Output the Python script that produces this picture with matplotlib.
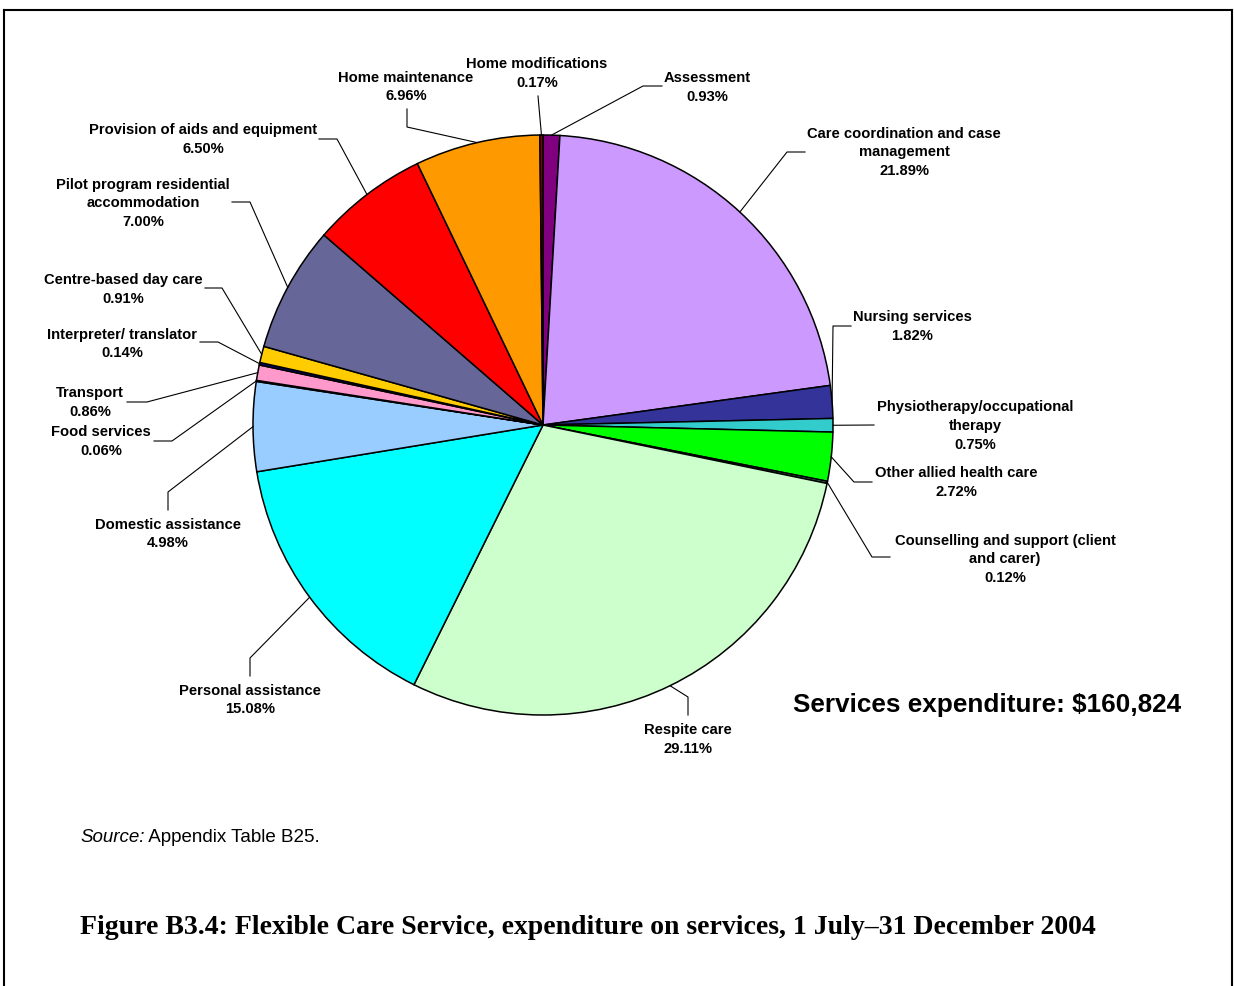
import numpy as np
import matplotlib.pyplot as plt
from matplotlib.lines import Line2D

W, H = 1234, 987

labels = ['Assessment', 'Care coordination and case\nmanagement', 'Nursing services',
          'Physiotherapy/occupational\ntherapy', 'Other allied health care',
          'Counselling and support (client\nand carer)', 'Respite care',
          'Personal assistance', 'Domestic assistance', 'Food services', 'Transport',
          'Interpreter/ translator', 'Centre-based day care',
          'Pilot program residential\naccommodation', 'Provision of aids and equipment',
          'Home maintenance', 'Home modifications']
shares = [0.93, 21.89, 1.82, 0.75, 2.72, 0.12, 29.11, 15.08, 4.98, 0.06, 0.86,
          0.14, 0.91, 7.00, 6.50, 6.96, 0.17]
colors = ['#800080', '#CC99FF', '#333399', '#33CCCC', '#00FF00', '#339966', '#CCFFCC',
          '#00FFFF', '#99CCFF', '#993366', '#FF99CC', '#000080', '#FFCC00', '#666699',
          '#FF0000', '#FF9900', '#800000']
total_spend = '$160,824'

# label block centre and leader elbows, in page pixels (y down)
label_pos = [(707, 87.5), (904, 152.5), (912, 326.5), (975, 426), (956, 482.5),
             (1005, 559.5), (688, 739.5), (250, 700), (168, 534), (101, 441.5),
             (90, 402.5), (122, 344), (123, 289.5), (143, 203.5), (203, 139.5),
             (406, 87), (537, 73.5)]
leaders = [[(643, 87), (662, 87)], [(787, 153), (805, 153)], [(833, 327), (851, 327)],
           [(874, 426)], [(854, 483), (872, 483)], [(872, 558), (890, 558)],
           [(688, 698), (688, 716)], [(250, 659), (250, 677)], [(168, 493), (168, 511)],
           [(172, 442), (154, 442)], [(147, 403), (127, 403)], [(218, 343), (200, 343)],
           [(222, 289), (205, 289)], [(250, 203), (232, 203)], [(337, 140), (319, 140)],
           [(407, 128), (407, 110)], [(538, 97)]]

cx, cy, r = 543, 426, 290

def fy(y):
    return H - y

fig = plt.figure(figsize=(W / 100, H / 100), dpi=100)
ax = fig.add_axes([0, 0, 1, 1])

ax.pie(shares, colors=colors, startangle=90, counterclock=False,
       center=(cx, fy(cy)), radius=r,
       wedgeprops=dict(edgecolor='black', linewidth=1.1))

lab_font = dict(family='Liberation Sans', fontweight='bold', fontsize=10.6)
cum = np.cumsum([0] + shares[:-1])
for i, (lab, val) in enumerate(zip(labels, shares)):
    mid = 90 - (cum[i] + val / 2) * 3.6
    a = np.deg2rad(mid)
    x0, y0 = cx + r * np.cos(a), cy - r * np.sin(a)
    pts = [(x0, y0)] + leaders[i]
    ax.plot([p[0] for p in pts], [fy(p[1]) for p in pts], color='black', lw=0.8)
    tx, ty = label_pos[i]
    ax.text(tx, fy(ty), '%s\n%.2f%%' % (lab, val), ha='center', va='center',
            linespacing=1.45, **lab_font)

ax.text(987, fy(705), 'Services expenditure: ' + total_spend, ha='center', va='center',
        family='Liberation Sans', fontweight='bold', fontsize=18.8)

src = ax.text(80, fy(838), 'Source:', ha='left', va='center', family='Liberation Sans',
              style='italic', fontsize=13.5)
ax.annotate(' Appendix Table B25.', xy=(1, 0.5), xycoords=src, ha='left', va='center',
            family='Liberation Sans', fontsize=13.5)

ax.text(80, fy(928), 'Figure B3.4: Flexible Care Service, expenditure on services, '
        '1 July\u201331 December 2004', ha='left', va='center',
        family='Liberation Serif', fontweight='bold', fontsize=20)

ax.set_xlim(0, W)
ax.set_ylim(0, H)
ax.set_aspect('auto')
ax.axis('off')

# page frame
fig.add_artist(Line2D([3.5 / W, 3.5 / W], [0, 1 - 10.5 / H], color='black', lw=1.5))
fig.add_artist(Line2D([3.5 / W, 1232 / W], [1 - 10.5 / H, 1 - 10.5 / H], color='black', lw=1.5))
fig.add_artist(Line2D([1232 / W, 1232 / W], [0, 1 - 10.5 / H], color='black', lw=1.5))

fig.savefig('out.png', dpi=100)
